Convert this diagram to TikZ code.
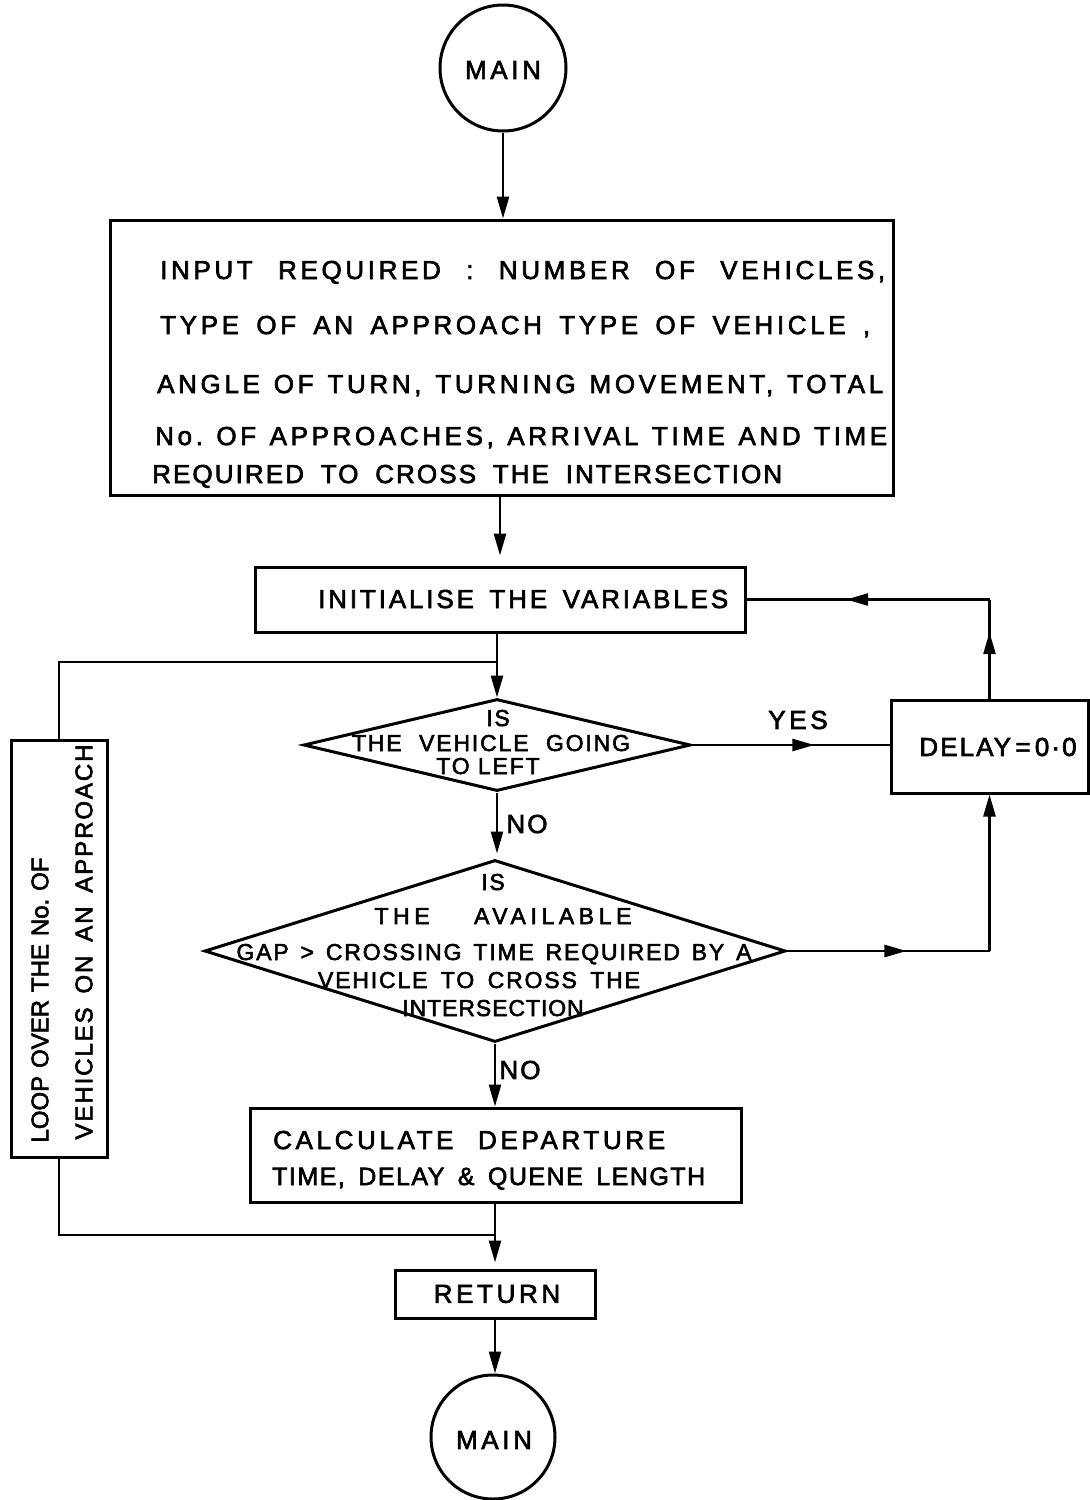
\documentclass[tikz,border=0pt]{standalone}
\usepackage{fontspec}
\setmainfont{Liberation Sans}
\newfontfamily\lettering[LetterSpace=8,FakeBold=2.5]{Liberation Sans}
\usetikzlibrary{arrows.meta,shapes.geometric,decorations.markings}

% a line of lettering spread to a given width (in pt)
\newcommand\spreadto[2]{\makebox[#1pt][s]{#2}}
% letter spacing for one line
\newcommand\ls[1]{\addfontfeature{LetterSpace=#1}}

\begin{document}
\frenchspacing
\begin{tikzpicture}[x=1pt,y=-1pt,
  frame/.style={draw, line width=3pt, rectangle, inner sep=0pt},
  ring/.style={draw, line width=3pt, circle, inner sep=0pt},
  rhomb/.style={draw, line width=3pt, diamond, inner sep=0pt},
  lbl/.style={inner sep=0pt, font=\lettering\fontsize{26}{30}\selectfont},
  slbl/.style={inner sep=0pt, font=\lettering\fontsize{23}{27}\selectfont},
  vlbl/.style={inner sep=0pt, rotate=90, font=\lettering\fontsize{24}{28}\selectfont},
  flow/.style={line width=2.5pt},
  tip/.style={-{Triangle[length=22pt,width=12pt]}},
  midtip/.style={postaction={decorate}, decoration={markings,
      mark=at position #1 with {\arrow{Triangle[length=22pt,width=12pt]}}}},
]
\useasboundingbox (0,0) rectangle (1090,1500);

% ---------- shapes ----------
\node[ring, minimum size=126pt] (main1) at (503,68) {};
\node[frame, minimum width=783pt, minimum height=275pt] (input) at (501.5,357.5) {};
\node[frame, minimum width=490pt, minimum height=65pt] (init) at (500,599.5) {};
\node[rhomb, minimum width=387pt, minimum height=92pt] (d1) at (497,745) {};
\node[frame, minimum width=197pt, minimum height=93pt] (delay) at (989.5,746.5) {};
\node[rhomb, minimum width=581pt, minimum height=182pt] (d2) at (495,951) {};
\node[frame, minimum width=96pt, minimum height=417pt] (loop) at (59,948.5) {};
\node[frame, minimum width=491pt, minimum height=94pt] (calc) at (495.5,1155) {};
\node[frame, minimum width=200pt, minimum height=48pt] (ret) at (495,1294) {};
\node[ring, minimum size=124pt] (main2) at (493,1437) {};

% ---------- texts ----------
\node[lbl] (main1t) at (503,70) {\ls{14}MAIN};
\node[lbl, anchor=base west] (in1) at (160,279) {\ls{14}\spreadto{725}{INPUT REQUIRED : NUMBER OF VEHICLES,}};
\node[lbl, anchor=base west] (in2) at (160,334) {\ls{14}\spreadto{710}{TYPE OF AN APPROACH TYPE OF VEHICLE ,}};
\node[lbl, anchor=base west] (in3) at (157,393) {\ls{14}\spreadto{726}{ANGLE OF TURN, TURNING MOVEMENT, TOTAL}};
\node[lbl, anchor=base west] (in4) at (155,445) {\ls{14}\spreadto{732}{No. OF APPROACHES, ARRIVAL TIME AND TIME}};
\node[lbl, anchor=base west] (in5) at (152,483) {\ls{8}\spreadto{630}{REQUIRED TO CROSS THE INTERSECTION}};

\node[lbl, anchor=base west] (initt) at (318,608) {\ls{11}\spreadto{410}{INITIALISE THE VARIABLES}};

\node[slbl, anchor=base] (d1a) at (498,726) {IS};
\node[slbl, anchor=base] (d1b) at (491,751) {\spreadto{278}{THE VEHICLE GOING}};
\node[slbl, anchor=base] (d1c) at (488,774) {TO LEFT};

\node[lbl] (yes) at (798,720) {\ls{14}YES};
\node[lbl] (delayt) at (998,747) {DELAY\,=\,0·0};
\node[lbl] (no1) at (527,824) {NO};

\node[slbl, anchor=base] (d2a) at (493,890) {IS};
\node[slbl, anchor=base] (d2b) at (503,924) {\ls{20}\spreadto{257}{THE AVAILABLE}};
\node[slbl, anchor=base] (d2c) at (494,960) {\spreadto{515}{GAP > CROSSING TIME REQUIRED BY A}};
\node[slbl, anchor=base] (d2d) at (479,988) {\spreadto{322}{VEHICLE TO CROSS THE}};
\node[slbl, anchor=base] (d2e) at (493,1016) {\ls{4}INTERSECTION};

\node[lbl] (no2) at (520,1070) {NO};

\node[vlbl] (loopa) at (40,1000)
  {\ls{0}\spreadto{285}{LOOP OVER THE No. OF}};
\node[vlbl] (loopb) at (84,942)
  {\spreadto{395}{VEHICLES ON AN APPROACH}};

\node[lbl, anchor=base west] (calca) at (273,1149) {\ls{14}\spreadto{392}{CALCULATE DEPARTURE}};
\node[lbl, anchor=base west, font=\lettering\fontsize{25}{30}\selectfont] (calcb) at (272,1185)
  {\ls{6}\spreadto{433}{TIME, DELAY \& QUENE LENGTH}};

\node[lbl] (rett) at (497,1294) {\ls{14}RETURN};
\node[lbl] (main2t) at (494,1440) {\ls{14}MAIN};

% ---------- connectors ----------
\draw[flow,tip] (main1) -- (main1.south |- input.north);
\draw[flow,tip,shorten >=10pt] (input.south -| init.north) -- (init.north);
\draw[flow,tip] (init.south -| d1.north) -- (d1.north);

\coordinate (j1) at (497,662);
\draw[flow] (loop.north) |- (j1);

\draw[flow,midtip=0.62] (d1.east) -- (d1.east -| delay.west);

\coordinate (c1) at (delay.north |- init.east);
\draw[flow,midtip=0.67] (delay.north) -- (c1);
\draw[flow,midtip=0.59] (c1) -- (init.east);

\draw[flow,tip,shorten >=5pt] (d1.south) -- (d1.south |- d2.north);

\coordinate (c2) at (delay.south |- d2.east);
\draw[flow,midtip=0.59] (d2.east) -- (c2);
\draw[flow,tip] (c2) -- (delay.south);

\draw[flow,tip] (d2.south) -- (d2.south |- calc.north);

\coordinate (j2) at (495,1235);
\draw[flow] (loop.south) |- (j2);
\draw[flow,tip,shorten >=6pt] (calc.south -| ret.north) -- (ret.north);

\draw[flow,tip] (ret.south) -- (ret.south |- main2.north);
\end{tikzpicture}
\end{document}
